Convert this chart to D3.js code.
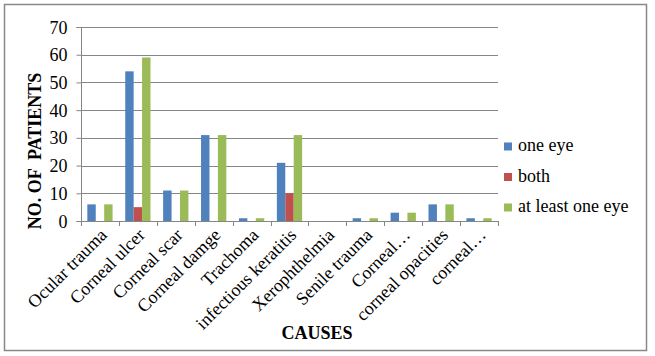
<!DOCTYPE html>
<html><head><meta charset="utf-8">
<script src="https://cdn.jsdelivr.net/npm/d3@7"></script>
<style>
html,body{margin:0;padding:0;background:#fff;}
svg{display:block;}
text{font-family:"Liberation Serif","Times New Roman",serif;fill:#000;}
</style></head>
<body><svg id="c" width="655" height="356"></svg>
<script>
const categories = ["Ocular trauma","Corneal ulcer","Corneal scar","Corneal damge","Trachoma","infectious keratitis","Xerophthelmia","Senile trauma","Corneal…","corneal opacities","corneal…"];
const seriesNames = ["one eye","both","at least one eye"];
const oneEye = [6,54,11,31,1,21,0,1,3,6,1];
const both = [0,5,0,0,0,10,0,0,0,0,0];
const atLeastOne = [6,59,11,31,1,31,0,1,3,6,1];
const yTicks = [0,10,20,30,40,50,60,70];
const colors = ["#4F81BD","#C0504D","#9BBB59"];
const seriesValues = [oneEye, both, atLeastOne];

const svg = d3.select("#c");
svg.append("rect").attr("x",0).attr("y",0).attr("width",655).attr("height",356).attr("fill","#fff");
svg.append("rect").attr("x",4.5).attr("y",4.5).attr("width",642).attr("height",346)
  .attr("fill","none").attr("stroke","#898989").attr("stroke-width",1.5);

const L = 81, R = 498, T = 27, B = 221;
const x = d3.scaleBand().domain(categories).range([L,R]).padding(0);
const xs = d3.scaleBand().domain(seriesNames).range([0,x.bandwidth()]).paddingInner(0).paddingOuter(0.75);
const y = d3.scaleLinear().domain([0,70]).range([B,T]);

// gridlines
svg.append("g").selectAll("line").data(yTicks.filter(d=>d>0)).join("line")
  .attr("x1",L).attr("x2",R).attr("y1",d=>Math.round(y(d))+0.5).attr("y2",d=>Math.round(y(d))+0.5)
  .attr("stroke","#868686").attr("stroke-width",1);

// bars
seriesNames.forEach((s,si)=>{
  svg.append("g").selectAll("rect").data(categories).join("rect")
    .attr("x",(c)=>x(c)+xs(s))
    .attr("width",xs.bandwidth())
    .attr("y",(c,i)=>y(seriesValues[si][i]))
    .attr("height",(c,i)=>B-y(seriesValues[si][i]))
    .attr("fill",colors[si]);
});

// y axis
const ya = svg.append("g").attr("transform",`translate(${L+0.5},0)`)
  .call(d3.axisLeft(y).tickValues(yTicks).tickSize(5).tickPadding(9).tickFormat(d3.format("d")));
ya.select(".domain").attr("stroke","#868686").attr("d",`M-5,${T+0.5}H0V${B+0.5}H-5`);
ya.selectAll(".tick line").attr("stroke","#868686");
ya.selectAll(".tick text").style("font-family","'Liberation Serif',serif").style("font-size","18px").attr("dy","0.34em");

// x axis line + boundary ticks
svg.append("line").attr("x1",L).attr("x2",R).attr("y1",B+0.5).attr("y2",B+0.5).attr("stroke","#868686");
const bounds = categories.map(c=>x(c)).concat([x(categories[categories.length-1])+x.bandwidth()]);
svg.append("g").selectAll("line").data(bounds).join("line")
  .attr("x1",d=>Math.round(d)+0.5).attr("x2",d=>Math.round(d)+0.5).attr("y1",B).attr("y2",B+5)
  .attr("stroke","#868686");

// category labels
svg.append("g").selectAll("text").data(categories).join("text")
  .attr("transform",c=>`translate(${x(c)+x.bandwidth()/2+8},${B+15}) rotate(-45)`)
  .attr("text-anchor","end")
  .style("font-size","18px")
  .text(c=>c);

// axis titles
svg.append("text").attr("transform","translate(41,151) rotate(-90)")
  .attr("text-anchor","middle").style("font-size","18px").style("font-weight","bold")
  .style("white-space","pre").text("NO. OF  PATIENTS");
svg.append("text").attr("x",317).attr("y",339).attr("text-anchor","middle")
  .style("font-size","18px").style("font-weight","bold").text("CAUSES");

// legend
const lg = svg.append("g");
seriesNames.forEach((s,i)=>{
  const by = 151 + i*30.5;
  lg.append("rect").attr("x",504).attr("y",by-8.5).attr("width",8).attr("height",8).attr("fill",colors[i]);
  lg.append("text").attr("x",518).attr("y",by).style("font-size","18px").text(s);
});
</script></body></html>
